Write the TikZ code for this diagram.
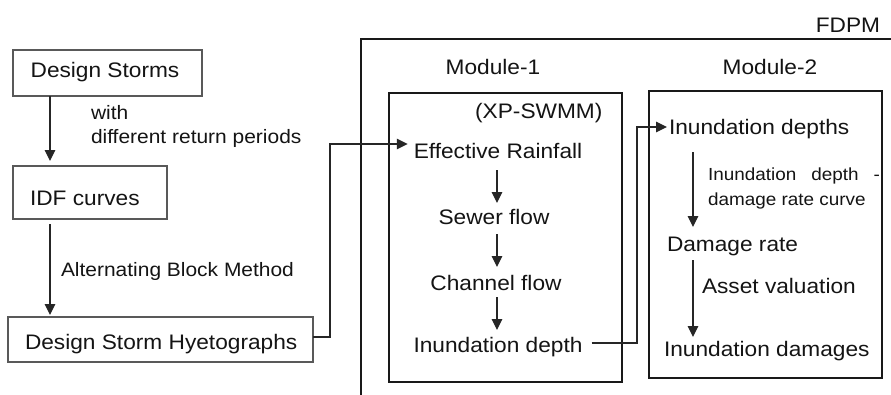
\documentclass[tikz,border=0pt]{standalone}
\usepackage{fontspec}
\setmainfont[FakeStretch=1.08]{Liberation Sans}
\usetikzlibrary{arrows.meta}
\begin{document}
\begin{tikzpicture}[x=1pt,y=-1pt,
  box/.style={draw=black!65,line width=1.3pt,inner sep=0pt,outer sep=0pt},
  mbox/.style={draw=black!90,line width=1.8pt,inner sep=0pt,outer sep=0pt},
  txt/.style={inner sep=0pt,outer sep=0pt,text height=15.5pt,text depth=4.5pt,
    font=\fontsize{21}{25}\selectfont,text=black!92,anchor=base},
  lbl/.style={txt,font=\fontsize{19.4}{23}\selectfont,anchor=base west},
  slbl/.style={txt,font=\fontsize{17.5}{21}\selectfont,anchor=base west},
  arr/.style={draw=black!85,line width=1.1pt,-{Triangle[width=10.5pt,length=11pt]}}]
\useasboundingbox (0,0) rectangle (891,394);
\fill[white] (0,0) rectangle (891,394);

% outer FDPM frame
\draw[black!90,line width=1.8pt] (361,396) -- (361,39) -- (893,39);
\node[txt] (fdpm) at (848,32) {FDPM};

% left boxes
\node[box,minimum width=189pt,minimum height=46pt] (ds) at (107.5,73) {};
\node[box,minimum width=154pt,minimum height=53pt] (idf) at (90,192.5) {};
\node[box,minimum width=305pt,minimum height=45pt] (dsh) at (160.5,339.5) {};
\node[txt] (dst) at (105,77) {Design Storms};
\node[lbl] (with) at (91,119) {with};
\node[lbl] (drp) at (91,143) {different return periods};
\node[txt,anchor=base west] (idft) at (30,205) {IDF curves};
\node[lbl] (abm) at (61,276) {Alternating Block Method};
\node[txt,anchor=base west] (dsht) at (25,349) {Design Storm Hyetographs};

% modules
\node[mbox,minimum width=233pt,minimum height=289pt] (m1) at (505.5,237.5) {};
\node[mbox,minimum width=233pt,minimum height=287pt] (m2) at (765.5,234.5) {};
\node[txt] (m1t) at (493,74) {Module-1};
\node[txt] (m2t) at (770,74) {Module-2};
\node[txt] (xp) at (538.8,118.3) {(XP-SWMM)};
\node[txt] (er) at (498,158) {Effective Rainfall};
\node[txt] (sf) at (494,224) {Sewer flow};
\node[txt] (cf) at (496,290) {Channel flow};
\node[txt] (id) at (498,352.7) {Inundation depth};
\node[txt,anchor=base west] (ids) at (669,134) {Inundation depths};
\node[slbl] (l1) at (708,180.7) {Inundation\hspace{15pt}depth\hspace{15pt}-};
\node[slbl] (l2) at (708,205.7) {damage rate curve};
\node[txt,anchor=base west] (dr) at (667,251.7) {Damage rate};
\node[txt,anchor=base west] (av) at (702,293) {Asset valuation};
\node[txt,anchor=base west] (idm) at (664,356.7) {Inundation damages};

% helper coordinates
\coordinate (lx) at (50,0);
\coordinate (m1x) at (497,0);
\coordinate (m2x) at (693,0);
\coordinate (c0) at (0,337);
\coordinate (c1) at (330,144);
\coordinate (c3) at (0,343);
\coordinate (c2) at (637,127);

% connectors
\draw[arr,shorten >=5pt] (ds.south -| lx) -- (idf.north -| lx);
\draw[arr,shorten <=5pt,shorten >=2pt] (idf.south -| lx) -- (dsh.north -| lx);
\draw[arr,shorten >=6pt] (dsh.east |- c0) -| (c1) -- (er.west |- c1);
\draw[arr,shorten <=7.5pt,shorten >=5.5pt] (er.south -| m1x) -- (sf.north -| m1x);
\draw[arr,shorten <=5.5pt,shorten >=7.5pt] (sf.south -| m1x) -- (cf.north -| m1x);
\draw[arr,shorten <=2.5pt,shorten >=7.2pt] (cf.south -| m1x) -- (id.north -| m1x);
\draw[arr,shorten <=9pt,shorten >=2pt] (id.east |- c3) -| (c2) -- (ids.west |- c2);
\draw[arr,shorten <=13.5pt,shorten >=9.2pt] (ids.south -| m2x) -- (dr.north -| m2x);
\draw[arr,shorten <=3.8pt,shorten >=4.2pt] (dr.south -| m2x) -- (idm.north -| m2x);
\end{tikzpicture}
\end{document}
